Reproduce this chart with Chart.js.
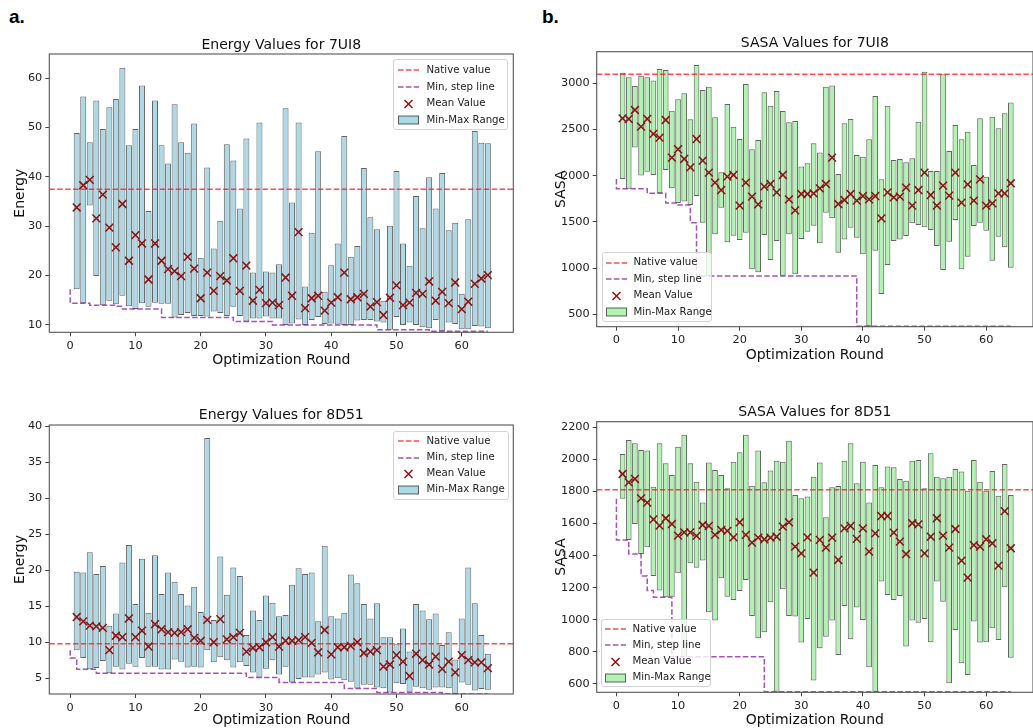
<!DOCTYPE html>
<html><head><meta charset="utf-8">
<script src="https://cdn.jsdelivr.net/npm/chart.js@4.4.1/dist/chart.umd.min.js"></script>
<style>
html,body{margin:0;padding:0;background:#fff;overflow:hidden;width:1033px;height:728px;position:relative;}
canvas{position:absolute;}
.lbl{position:absolute;font-family:'Liberation Sans',Arial,sans-serif;font-weight:bold;font-size:19px;color:#000;}
.legend{position:absolute;box-sizing:border-box;border:1px solid #d4d4d4;border-radius:3px;background:rgba(255,255,255,0.8);font-family:'DejaVu Sans',sans-serif;font-size:10.2px;color:#222;}
.legend svg{position:absolute;}
.legend span{position:absolute;white-space:nowrap;line-height:12px;}
</style></head><body>
<div class="lbl" style="left:9px;top:6px;">a.</div>
<div class="lbl" style="left:542px;top:6px;">b.</div>
<canvas id="c1" width="525" height="375" style="left:0;top:0;"></canvas>
<canvas id="c2" width="500" height="375" style="left:540px;top:0;"></canvas>
<canvas id="c3" width="525" height="360" style="left:0;top:380px;"></canvas>
<canvas id="c4" width="500" height="360" style="left:540px;top:380px;"></canvas>
<script>
// ---------- shared categories / ticks ----------
const rounds = [1,2,3,4,5,6,7,8,9,10,11,12,13,14,15,16,17,18,19,20,21,22,23,24,25,26,27,28,29,30,31,32,33,34,35,36,37,38,39,40,41,42,43,44,45,46,47,48,49,50,51,52,53,54,55,56,57,58,59,60,61,62,63,64];
const stepX = [0,1,2,3,4,5,6,7,8,9,10,11,12,13,14,15,16,17,18,19,20,21,22,23,24,25,26,27,28,29,30,31,32,33,34,35,36,37,38,39,40,41,42,43,44,45,46,47,48,49,50,51,52,53,54,55,56,57,58,59,60,61,62,63,64];
const xTicks = [0,10,20,30,40,50,60];
const yTicksEnergy7 = [10,20,30,40,50,60];
const yTicksSasa7 = [500,1000,1500,2000,2500,3000];
const yTicksEnergy8 = [5,10,15,20,25,30,35,40];
const yTicksSasa8 = [600,800,1000,1200,1400,1600,1800,2000,2200];

// ---------- Energy 7UI8 ----------
const energy7Max = [48.9,56.3,47.0,55.5,49.7,54.1,55.8,62.1,46.4,49.7,58.5,33.1,55.5,46.4,42.7,54.7,47.0,44.9,50.8,23.6,41.9,25.5,31.1,46.6,43.3,33.6,47.8,20.6,51.0,20.8,20.6,22.3,53.9,34.8,51.0,17.8,28.7,45.2,16.7,22.1,26.5,48.3,23.8,26.0,41.8,31.8,29.4,14.9,30.1,41.2,26.5,22.0,36.1,29.6,39.9,33.6,40.8,29.2,30.7,16.3,31.4,49.3,46.9,46.8];
const energy7Min = [17.2,14.4,34.2,19.9,14.0,14.9,14.2,15.9,13.8,13.2,14.4,13.7,14.5,14.3,14.3,11.5,12.0,12.4,11.8,11.8,11.7,12.7,12.4,11.8,13.7,11.8,10.7,11.3,11.3,11.7,11.3,11.3,10.0,10.3,11.1,10.0,11.0,11.6,10.2,10.3,10.1,10.0,10.0,10.9,11.0,11.0,10.7,10.5,9.0,11.6,10.0,10.5,10.0,9.5,9.3,11.0,8.7,10.5,10.2,9.1,9.1,9.8,9.7,9.3];
const energy7Mean = [33.8,38.3,39.4,31.6,36.4,29.7,25.7,34.5,23.0,28.2,26.5,19.2,26.5,23.0,21.3,20.9,19.9,23.8,21.4,15.4,20.6,16.9,19.9,19.0,23.5,16.9,22.0,14.9,17.1,14.4,14.5,14.0,19.6,15.9,28.8,13.4,15.4,15.9,12.9,14.5,15.6,20.6,15.2,15.6,16.3,13.7,14.6,12.0,15.5,18.0,14.0,14.5,16.5,16.3,18.8,14.9,16.7,14.4,18.6,13.2,14.7,18.3,19.4,20.1];
const energy7Step = [17.2,14.4,14.4,14.4,14.0,14.0,14.0,14.0,13.8,13.2,13.2,13.2,13.2,13.2,13.2,11.5,11.5,11.5,11.5,11.5,11.5,11.5,11.5,11.5,11.5,11.5,10.7,10.7,10.7,10.7,10.7,10.7,10.0,10.0,10.0,10.0,10.0,10.0,10.0,10.0,10.0,10.0,10.0,10.0,10.0,10.0,10.0,10.0,9.0,9.0,9.0,9.0,9.0,9.0,9.0,9.0,8.7,8.7,8.7,8.7,8.7,8.7,8.7,8.7,8.7];
const energy7Native = 37.5;

// ---------- SASA 7UI8 ----------
const sasa7Max = [3115,3065,2971,3083,3065,3029,3155,3144,2704,2827,2892,2610,3198,2928,2964,2632,2037,2776,2531,2397,2993,2286,2387,2903,2758,2917,2701,2578,2592,2100,2134,2351,2250,2964,2975,2019,2567,2614,2224,2206,2394,2863,1961,2758,2170,2181,2145,2188,2585,3126,2051,2051,3097,2268,2549,2394,2477,2116,2621,1990,2639,2513,2675,2791];
const sasa7Min = [1965,1860,2304,2001,2044,2008,1810,2062,1863,1705,1720,1683,1780,1492,915,1366,1654,1279,1351,1304,1384,987,954,1358,1088,1293,918,1366,933,1315,1394,1459,1268,1600,1539,1167,1311,1438,1329,1149,370,1189,720,1034,1293,1311,1347,1485,1467,1441,1412,1239,980,1286,1521,987,1124,1456,1492,1405,1081,1340,1225,1005];
const sasa7Mean = [2621,2614,2711,2531,2614,2452,2412,2603,2195,2286,2181,2091,2397,2163,2033,1925,1845,1990,2008,1676,1925,1773,1690,1881,1910,1820,2008,1744,1625,1802,1802,1809,1863,1910,2195,1694,1737,1802,1730,1780,1744,1780,1539,1820,1766,1773,1871,1676,1845,2033,1791,1676,1892,1784,2033,1708,1907,1730,1961,1676,1701,1809,1809,1918];
const sasa7Step = [1965,1860,1860,1860,1860,1860,1810,1810,1810,1705,1705,1683,1683,1492,915,915,915,915,915,915,915,915,915,915,915,915,915,915,915,915,915,915,915,915,915,915,915,915,915,915,370,370,370,370,370,370,370,370,370,370,370,370,370,370,370,370,370,370,370,370,370,370,370,370,370];
const sasa7Native = 3097;

// ---------- Energy 8D51 ----------
const energy8Max = [19.8,19.7,22.5,19.5,20.6,12.3,14.0,21.1,23.5,15.3,21.6,14.1,22.1,16.7,19.7,18.4,16.7,15.1,17.7,14.2,38.4,13.1,21.9,16.6,20.4,19.2,11.0,14.4,13.1,16.5,15.5,13.6,13.8,18.0,20.3,19.5,19.7,12.9,23.4,13.6,13.3,14.1,19.4,18.2,15.3,13.3,15.4,10.7,10.7,9.7,11.9,8.7,15.3,14.4,13.2,14.0,9.6,11.4,7.6,13.3,20.4,15.4,11.0,8.4];
const energy8Min = [8.9,7.8,6.25,6.4,7.4,5.7,6.6,6.2,7.0,6.6,7.8,6.6,6.6,6.2,6.2,7.6,7.3,6.5,6.6,6.5,8.9,7.2,7.9,7.5,6.5,7.2,6.7,5.8,5.1,6.3,7.5,5.5,6.6,4.4,4.9,5.1,5.1,5.5,5.8,4.8,5.0,4.7,4.5,3.55,4.1,4.1,3.7,3.6,3.0,4.3,4.2,3.1,3.8,3.6,3.4,3.7,3.7,3.6,2.8,4.4,4.1,3.3,3.5,3.4];
const energy8Mean = [13.5,12.9,12.3,12.2,12.0,8.9,10.9,10.7,13.3,10.7,11.6,9.4,12.5,11.8,11.4,11.3,11.4,11.8,10.6,10.2,13.1,10.0,13.2,10.4,10.7,11.3,8.7,9.2,9.3,10.0,10.7,9.4,10.2,10.2,10.3,10.7,9.9,8.6,11.7,8.3,9.3,9.3,9.5,10.0,8.5,8.7,8.9,6.6,6.9,8.2,7.3,5.3,8.4,7.5,6.9,8.0,6.3,7.3,5.8,8.2,7.5,7.2,7.2,6.4];
const energy8Step = [8.9,7.8,6.25,6.25,6.25,5.7,5.7,5.7,5.7,5.7,5.7,5.7,5.7,5.7,5.7,5.7,5.7,5.7,5.7,5.7,5.7,5.7,5.7,5.7,5.7,5.7,5.7,5.7,5.1,5.1,5.1,5.1,5.1,4.4,4.4,4.4,4.4,4.4,4.4,4.4,4.4,4.4,4.4,3.55,3.55,3.55,3.55,3.55,3.0,3.0,3.0,3.0,3.0,3.0,3.0,3.0,3.0,3.0,2.8,2.8,2.8,2.8,2.8,2.8,2.8];
const energy8Native = 9.8;

// ---------- SASA 8D51 ----------
const sasa8Max = [2034,2121,2100,2059,2055,1830,2100,1976,1903,2079,2154,1976,1861,1732,1980,1934,1903,1820,1986,2044,2154,1836,2055,1857,1930,1992,1986,2117,1778,1757,1768,1892,1980,1639,1826,1834,1992,2100,1851,1986,1732,1965,1826,1955,1951,1878,1867,1992,1996,1820,2038,1892,1882,1892,1940,1924,1805,1996,1861,1805,1928,1774,1971,1778];
const sasa8Min = [1755,1498,1597,1410,1452,1273,1182,1140,1144,1290,770,1352,1325,1369,1047,995,1259,1144,1124,1180,1248,1024,885,922,1109,552,1190,1024,1020,858,1005,621,822,895,995,781,1086,878,1076,999,704,552,1238,1155,1124,1149,833,995,982,1005,860,1238,1113,604,937,729,656,989,858,860,947,874,1203,764];
const sasa8Mean = [1909,1857,1878,1757,1730,1626,1587,1633,1597,1525,1545,1545,1523,1591,1585,1529,1560,1554,1514,1608,1529,1481,1512,1502,1512,1518,1581,1608,1456,1414,1514,1294,1498,1450,1512,1373,1570,1585,1504,1570,1425,1539,1647,1647,1543,1487,1410,1602,1595,1414,1518,1633,1525,1450,1566,1369,1263,1466,1456,1502,1477,1338,1678,1446];
const sasa8Step = [1755,1498,1498,1410,1410,1273,1182,1140,1140,1140,770,770,770,770,770,770,770,770,770,770,770,770,770,770,770,552,552,552,552,552,552,552,552,552,552,552,552,552,552,552,552,552,552,552,552,552,552,552,552,552,552,552,552,552,552,552,552,552,552,552,552,552,552,552,552];
const sasa8Native = 1810;

Chart.defaults.font.family = "'DejaVu Sans', sans-serif";
Chart.defaults.color = '#222';

const framePlugin = {
  id: 'frame',
  afterDatasetsDraw(chart) {
    const a = chart.chartArea, ctx = chart.ctx;
    ctx.save();
    ctx.strokeStyle = '#555';
    ctx.lineWidth = 1.1;
    ctx.strokeRect(a.left, a.top, a.right - a.left, a.bottom - a.top);
    ctx.restore();
  }
};

function build(id, o) {
  const bars = rounds.map((r, i) => ({x: r, y: [o.mins[i], o.maxs[i]]}));
  const means = rounds.map((r, i) => ({x: r, y: o.means[i]}));
  const step = stepX.map((x, i) => ({x: x, y: o.step[i]}));
  const nat = [{x: o.xMin, y: o.native}, {x: o.xMax, y: o.native}];
  return new Chart(document.getElementById(id), {
    type: 'bar',
    data: {
      datasets: [
        {type: 'line', label: 'Mean Value', data: means, showLine: false, pointStyle: 'crossRot',
         pointRadius: 5.5, pointHoverRadius: 5.5, pointBorderWidth: 1.5, pointBorderColor: '#8b1212',
         pointBackgroundColor: '#8b1212', order: 0},
        {type: 'line', label: 'Native value', data: nat, borderColor: 'rgba(255,30,30,0.8)', borderWidth: 1.5,
         borderDash: [5.5, 2.4], pointRadius: 0, order: 1},
        {type: 'line', label: 'Min, step line', data: step, stepped: 'after', borderColor: 'rgba(140,40,160,0.8)',
         borderWidth: 1.5, borderDash: [5.5, 2.4], pointRadius: 0, order: 2},
        {type: 'bar', label: 'Min-Max Range', data: bars, backgroundColor: o.barColor,
         borderColor: 'rgba(40,40,40,0.72)', borderWidth: 1, borderSkipped: false,
         barPercentage: 0.92, categoryPercentage: 1, order: 3}
      ]
    },
    options: {
      responsive: false, animation: false, devicePixelRatio: 1,
      layout: {padding: o.pad},
      plugins: {
        legend: {display: false}, tooltip: {enabled: false},
        title: {display: true, text: o.title, fullSize: false, color: '#111',
                font: {size: 14, weight: 'normal'}, padding: o.titlePad}
      },
      scales: {
        x: {type: 'linear', min: o.xMin, max: o.xMax, offset: false,
            afterBuildTicks: s => { s.ticks = xTicks.map(v => ({value: v})); },
            afterFit: s => { s.height = o.xH; },
            ticks: {font: {size: 11.3}, color: '#222', padding: 3, maxRotation: 0, autoSkip: false,
                    callback: v => String(v)},
            grid: {display: true, drawOnChartArea: false, drawTicks: true, tickLength: 4, tickColor: '#444', offset: false},
            border: {display: false},
            title: {display: true, text: 'Optimization Round', color: '#111', font: {size: 14}, padding: {top: 0, bottom: 0}}},
        y: {type: 'linear', min: o.yMin, max: o.yMax,
            afterBuildTicks: s => { s.ticks = o.yTicks.map(v => ({value: v})); },
            afterFit: s => { s.width = o.yW; },
            ticks: {font: {size: 11.3}, color: '#222', padding: 3, autoSkip: false,
                    callback: v => String(v)},
            grid: {display: true, drawOnChartArea: false, drawTicks: true, tickLength: 4, tickColor: '#444'},
            border: {display: false},
            title: {display: true, text: o.yTitle, color: '#111', font: {size: 14}, padding: {top: 0, bottom: 0}}}
      }
    },
    plugins: [framePlugin]
  });
}

const blue = 'rgb(173,216,230)';
const green = 'rgba(144,238,144,0.7)';

build('c1', {mins: energy7Min, maxs: energy7Max, means: energy7Mean, step: energy7Step, native: energy7Native,
  xMin: -3.2, xMax: 67.9, yMin: 8.5, yMax: 64.9, yTicks: yTicksEnergy7, barColor: blue,
  title: 'Energy Values for 7UI8', yTitle: 'Energy',
  pad: {left: 12.3, right: 11.7, top: 0, bottom: 5.9}, titlePad: {top: 36.6, bottom: 0.6}, yW: 37, xH: 36.8});
build('c2', {mins: sasa7Min, maxs: sasa7Max, means: sasa7Mean, step: sasa7Step, native: sasa7Native,
  xMin: -3.2, xMax: 67.6, yMin: 366, yMax: 3342, yTicks: yTicksSasa7, barColor: green,
  title: 'SASA Values for 7UI8', yTitle: 'SASA',
  pad: {left: 13, right: 3, top: 0, bottom: 11.6}, titlePad: {top: 34.9, bottom: 0}, yW: 43.7, xH: 36.7});
build('c3', {mins: energy8Min, maxs: energy8Max, means: energy8Mean, step: energy8Step, native: energy8Native,
  xMin: -3.2, xMax: 67.9, yMin: 2.8, yMax: 40.2, yTicks: yTicksEnergy8, barColor: blue,
  title: 'Energy Values for 8D51', yTitle: 'Energy',
  pad: {left: 12.3, right: 11.7, top: 0, bottom: 10.9}, titlePad: {top: 27.3, bottom: 0.9}, yW: 37, xH: 35.1});
build('c4', {mins: sasa8Min, maxs: sasa8Max, means: sasa8Mean, step: sasa8Step, native: sasa8Native,
  xMin: -3.2, xMax: 67.6, yMin: 548, yMax: 2235, yTicks: yTicksSasa8, barColor: green,
  title: 'SASA Values for 8D51', yTitle: 'SASA',
  pad: {left: 13, right: 3, top: 0, bottom: 11.6}, titlePad: {top: 24.3, bottom: 0.6}, yW: 43.7, xH: 36.1});

// ---------- legends (HTML) ----------
const legendLabels = ['Native value', 'Min, step line', 'Mean Value', 'Min-Max Range'];
function legend(box, fill, rows, hx, tx) {
  const d = document.createElement('div');
  d.className = 'legend';
  d.style.left = box[0] + 'px'; d.style.top = box[1] + 'px';
  d.style.width = box[2] + 'px'; d.style.height = box[3] + 'px';
  const handles = [
    '<line x1="0" y1="5" x2="21" y2="5" stroke="rgba(255,30,30,0.8)" stroke-width="1.5" stroke-dasharray="5.5 2.4"/>',
    '<line x1="0" y1="5" x2="21" y2="5" stroke="rgba(140,40,160,0.8)" stroke-width="1.5" stroke-dasharray="5.5 2.4"/>',
    '<path d="M6.5 1 L14.5 9 M14.5 1 L6.5 9" stroke="#8b1212" stroke-width="1.5" fill="none"/>',
    '<rect x="0.5" y="1" width="20" height="8" fill="' + fill + '" stroke="rgba(40,40,40,0.72)" stroke-width="1"/>'
  ];
  let html = '';
  for (let i = 0; i < 4; i++) {
    html += '<svg width="22" height="10" style="left:' + hx + 'px;top:' + (rows[i] - 5) + 'px">' + handles[i] + '</svg>';
    html += '<span style="left:' + tx + 'px;top:' + (rows[i] - 6.5) + 'px">' + legendLabels[i] + '</span>';
  }
  d.innerHTML = html;
  document.body.appendChild(d);
}
legend([393, 59, 115, 71], blue, [10, 27, 43.5, 60], 3.5, 32.5);
legend([601.5, 251.5, 110, 70], green, [10, 26.6, 43.3, 59.5], 3.3, 31);
legend([393, 430.5, 116, 69], blue, [9.8, 26, 42, 58.3], 3.5, 32.5);
legend([600.5, 619, 110, 68], green, [9, 25, 41.7, 57.7], 3.3, 31);
</script>
</body></html>
